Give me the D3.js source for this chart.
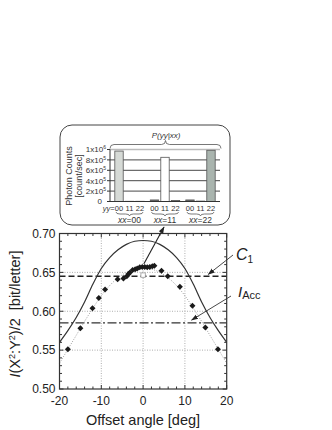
<!DOCTYPE html>
<html>
<head>
<meta charset="utf-8">
<script src="https://cdn.jsdelivr.net/npm/d3@7"></script>
<style>
body { margin: 0; background: #fff; }
svg { display: block; font-family: "Liberation Sans", Arial, sans-serif; }
</style>
</head>
<body>
<svg width="332" height="430"></svg>
<script>
// measured points (offset angle, mutual information)
var angles = [-18, -15, -12.1, -10.6, -9.1, -6.1, -4.7, -3.9, -3.5, -3.2, -2.5, -1.9, -1.4, -0.8, -0.2, 0.4, 1.0, 1.6, 2.2, 2.7, 4.4, 5.9, 8.8, 11.8, 14.9, 17.9];
var info = [0.551, 0.578, 0.604, 0.617, 0.628, 0.641, 0.642, 0.645, 0.648, 0.6495, 0.653, 0.654, 0.655, 0.6565, 0.657, 0.657, 0.6565, 0.657, 0.658, 0.6585, 0.652, 0.645, 0.6315, 0.607, 0.579, 0.551];

// theoretical curve C1(angle), solid
var curveAngles = [-20, -18, -16, -14, -12, -10, -8, -6, -4, -2, 0, 2, 4, 6, 8, 10, 12, 14, 16, 18, 20];
var curveC = [0.560, 0.575, 0.592, 0.612, 0.635, 0.655, 0.669, 0.679, 0.686, 0.690, 0.691, 0.690, 0.686, 0.679, 0.669, 0.655, 0.635, 0.612, 0.592, 0.575, 0.560];
// fitted curve, dotted
var fitC = [0.533, 0.551, 0.569, 0.587, 0.604, 0.620, 0.633, 0.643, 0.650, 0.654, 0.655, 0.654, 0.650, 0.643, 0.633, 0.620, 0.604, 0.587, 0.569, 0.551, 0.533];

var c1Level = 0.645;
var iAccLevel = 0.585;
var openPoint = [0, 0.6465];

var xTicks = [-20, -10, 0, 10, 20];
var yTicks = [0.50, 0.55, 0.60, 0.65, 0.70];

// inset: photon counts P(yy|xx)
var groups = ["00", "11", "22"];
var yyCodes = ["00", "11", "22"];
var counts00 = [970000, 4000, 4000];
var counts11 = [30000, 850000, 20000];
var counts22 = [30000, 8000, 985000];
var insetTicks = [0, 200000, 400000, 600000, 800000, 1000000];
var insetTickLabels = [["0", ""], ["2x10", "5"], ["4x10", "5"], ["6x10", "5"], ["8x10", "5"], ["1x10", "6"]];
var barColors = ["#d6dad6", "#ffffff", "#a9b4ae"];

var svg = d3.select("svg");

var x = d3.scaleLinear().domain([-20, 20]).range([59.5, 226.7]);
var y = d3.scaleLinear().domain([0.5, 0.7]).range([389, 233.5]);

var plot = svg.append("g");

// dotted grid
plot.selectAll(".gx").data([-10, 0, 10]).enter().append("line")
    .attr("x1", d => x(d)).attr("x2", d => x(d))
    .attr("y1", y(0.5)).attr("y2", y(0.7))
    .attr("stroke", "#999").attr("stroke-width", 0.8).attr("stroke-dasharray", "1,1.5");
plot.selectAll(".gy").data([0.55, 0.60, 0.65]).enter().append("line")
    .attr("x1", x(-20)).attr("x2", x(20))
    .attr("y1", d => y(d)).attr("y2", d => y(d))
    .attr("stroke", "#999").attr("stroke-width", 0.8).attr("stroke-dasharray", "1,1.5");

// reference levels
plot.append("line")
    .attr("x1", x(-20)).attr("x2", x(20))
    .attr("y1", y(c1Level)).attr("y2", y(c1Level))
    .attr("stroke", "#222").attr("stroke-width", 1.5).attr("stroke-dasharray", "6,3");
plot.append("line")
    .attr("x1", x(-20)).attr("x2", x(20))
    .attr("y1", y(iAccLevel)).attr("y2", y(iAccLevel))
    .attr("stroke", "#333").attr("stroke-width", 1.2).attr("stroke-dasharray", "9,2.5,2,2.5");

svg.append("clipPath").attr("id", "clip").append("rect")
    .attr("x", x(-20)).attr("y", y(0.7)).attr("width", x(20) - x(-20)).attr("height", y(0.5) - y(0.7));

var line = d3.line().curve(d3.curveMonotoneX);

plot.append("path")
    .attr("d", line(curveAngles.map((a, i) => [x(a), y(fitC[i])])))
    .attr("fill", "none").attr("stroke", "#888").attr("stroke-width", 0.8)
    .attr("stroke-dasharray", "1,1.5");

plot.append("path")
    .attr("clip-path", "url(#clip)")
    .attr("d", line(curveAngles.map((a, i) => [x(a), y(curveC[i])])))
    .attr("fill", "none").attr("stroke", "#333").attr("stroke-width", 1.2);

// open square
plot.append("rect")
    .attr("x", x(openPoint[0]) - 2.2).attr("y", y(openPoint[1]) - 2.2)
    .attr("width", 4.4).attr("height", 4.4)
    .attr("fill", "#fff").attr("stroke", "#999").attr("stroke-width", 0.8);

// diamonds
var diamond = d3.symbol().type(d3.symbolSquare).size(18);
plot.selectAll(".pt").data(angles).enter().append("path")
    .attr("d", diamond)
    .attr("transform", (d, i) => "translate(" + x(d) + "," + y(info[i]) + ") rotate(45)")
    .attr("fill", "#1a1a1a");

// frame
plot.append("rect")
    .attr("x", x(-20)).attr("y", y(0.7))
    .attr("width", x(20) - x(-20)).attr("height", y(0.5) - y(0.7))
    .attr("fill", "none").attr("stroke", "#333").attr("stroke-width", 1.2);

// inward ticks
var xMinor = d3.range(-20, 20.1, 2);
var yMinor = d3.range(0.5, 0.7001, 0.01);
xMinor.forEach(function(t) {
    var len = (t % 10 === 0) ? 4 : 2.5;
    plot.append("line").attr("x1", x(t)).attr("x2", x(t)).attr("y1", y(0.5)).attr("y2", y(0.5) - len).attr("stroke", "#333");
    plot.append("line").attr("x1", x(t)).attr("x2", x(t)).attr("y1", y(0.7)).attr("y2", y(0.7) + len).attr("stroke", "#333");
});
yMinor.forEach(function(t, i) {
    var len = (i % 5 === 0) ? 4 : 2.5;
    plot.append("line").attr("y1", y(t)).attr("y2", y(t)).attr("x1", x(-20)).attr("x2", x(-20) + len).attr("stroke", "#333");
    plot.append("line").attr("y1", y(t)).attr("y2", y(t)).attr("x1", x(20)).attr("x2", x(20) - len).attr("stroke", "#333");
});

// tick labels
plot.selectAll(".xl").data(xTicks).enter().append("text")
    .attr("x", d => x(d)).attr("y", 404.5)
    .attr("text-anchor", "middle").attr("font-size", 12).attr("fill", "#222")
    .text(d => d);
plot.selectAll(".yl").data(yTicks).enter().append("text")
    .attr("x", 55.5).attr("y", d => y(d)).attr("dy", "0.36em")
    .attr("text-anchor", "end").attr("font-size", 12).attr("fill", "#222")
    .text(d => d.toFixed(2));

svg.append("text")
    .attr("x", 143).attr("y", 425)
    .attr("text-anchor", "middle").attr("font-size", 14.5).attr("fill", "#222")
    .text("Offset angle [deg]");

var yl = svg.append("text")
    .attr("transform", "translate(19.5,314) rotate(-90)")
    .attr("text-anchor", "middle").attr("font-size", 14.5).attr("fill", "#222");
yl.append("tspan").attr("font-style", "italic").text("I");
yl.append("tspan").text("(X");
yl.append("tspan").attr("font-size", 9).attr("dy", -5).text("2");
yl.append("tspan").attr("dy", 5).text(":Y");
yl.append("tspan").attr("font-size", 9).attr("dy", -5).text("2");
yl.append("tspan").attr("dy", 5).text(")/2\u00a0\u00a0[bit/letter]");

// arrows
var defs = svg.append("defs");
defs.append("marker").attr("id", "ah").attr("viewBox", "0 0 10 10")
    .attr("refX", 9).attr("refY", 5).attr("markerWidth", 7).attr("markerHeight", 7)
    .attr("orient", "auto").attr("markerUnits", "userSpaceOnUse")
    .append("path").attr("d", "M0,1.5L10,5L0,8.5Z").attr("fill", "#222");

svg.append("line")
    .attr("x1", x(0.2)).attr("y1", y(0.661)).attr("x2", 164).attr("y2", 227)
    .attr("stroke", "#222").attr("stroke-width", 1.1).attr("marker-end", "url(#ah)");
svg.append("line")
    .attr("x1", 233).attr("y1", 255).attr("x2", x(15.6)).attr("y2", y(0.6474))
    .attr("stroke", "#333").attr("stroke-width", 0.9).attr("marker-end", "url(#ah)");
svg.append("line")
    .attr("x1", 231).attr("y1", 296).attr("x2", x(11.6)).attr("y2", y(0.5887))
    .attr("stroke", "#333").attr("stroke-width", 0.9).attr("marker-end", "url(#ah)");

var c1 = svg.append("text").attr("x", 236).attr("y", 260).attr("fill", "#222");
c1.append("tspan").attr("font-size", 16).attr("font-style", "italic").text("C");
c1.append("tspan").attr("font-size", 10).attr("dy", 3).text("1");

var ia = svg.append("text").attr("x", 238).attr("y", 297).attr("fill", "#222");
ia.append("tspan").attr("font-size", 15).attr("font-style", "italic").text("I");
ia.append("tspan").attr("font-size", 11).attr("dy", 2).text("Acc");

// ---- inset ----
var inset = svg.append("g");
inset.append("rect")
    .attr("x", 60).attr("y", 125).attr("width", 170).attr("height", 100)
    .attr("rx", 12).attr("ry", 12)
    .attr("fill", "#fff").attr("stroke", "#444").attr("stroke-width", 1);

var gx = d3.scalePoint().domain(groups).range([110, 220]).padding(0.55);
var bx = d3.scalePoint().domain(yyCodes).range([-10.5, 10.5]);
var gy = d3.scaleLinear().domain([0, 1000000]).range([201.5, 149.5]);

inset.selectAll(".ig").data(insetTicks.slice(1)).enter().append("line")
    .attr("x1", 110).attr("x2", 220)
    .attr("y1", d => gy(d)).attr("y2", d => gy(d))
    .attr("stroke", d => d === 1000000 ? "#bbb" : "#333")
    .attr("stroke-width", d => d === 1000000 ? 1.6 : 0.9);

var table = [counts00, counts11, counts22];
var bars = [];
groups.forEach(function(g, gi) {
    yyCodes.forEach(function(c, ci) {
        bars.push({ g: g, c: c, ci: ci, v: table[gi][ci] });
    });
});
var bw = 8.4;
inset.selectAll(".bar").data(bars).enter().append("rect")
    .attr("x", d => gx(d.g) + bx(d.c) - bw / 2)
    .attr("y", d => gy(d.v))
    .attr("width", bw)
    .attr("height", d => gy(0) - gy(d.v))
    .attr("fill", d => d.v < 100000 ? "#666" : barColors[d.ci])
    .attr("stroke", "#555").attr("stroke-width", 0.8);

inset.append("line").attr("x1", 110).attr("x2", 110).attr("y1", gy(1000000)).attr("y2", gy(0)).attr("stroke", "#333");
inset.append("line").attr("x1", 110).attr("x2", 220).attr("y1", gy(0)).attr("y2", gy(0)).attr("stroke", "#333");
inset.selectAll(".itk").data(insetTicks).enter().append("line")
    .attr("x1", 107).attr("x2", 110).attr("y1", d => gy(d)).attr("y2", d => gy(d)).attr("stroke", "#333");

var itl = inset.selectAll(".itl").data(insetTicks).enter().append("text")
    .attr("x", (d, i) => i === 0 ? 102 : 106).attr("y", d => gy(d) + 2.9)
    .attr("text-anchor", "end").attr("font-size", 8).attr("fill", "#333");
itl.append("tspan").text((d, i) => insetTickLabels[i][0]);
itl.append("tspan").attr("font-size", 5).attr("dy", -3).text((d, i) => insetTickLabels[i][1]);

inset.append("text").attr("transform", "translate(71.5,176) rotate(-90)")
    .attr("text-anchor", "middle").attr("font-size", 9).attr("fill", "#333").text("Photon Counts");
inset.append("text").attr("transform", "translate(81.5,176) rotate(-90)")
    .attr("text-anchor", "middle").attr("font-size", 9).attr("fill", "#333").text("[count/sec]");

// yy labels
groups.forEach(function(g) {
    yyCodes.forEach(function(c) {
        inset.append("text").attr("x", gx(g) + bx(c)).attr("y", 210.5)
            .attr("text-anchor", "middle").attr("font-size", 7.5).attr("fill", "#333").text(c);
    });
});
var yyl = inset.append("text").attr("x", gx("00") + bx("00") - 4.5).attr("y", 210.5)
    .attr("text-anchor", "end").attr("font-size", 7.5).attr("fill", "#333");
yyl.append("tspan").attr("font-style", "italic").text("yy");
yyl.append("tspan").text("=");

function brace(x0, x1, yb, h, down) {
    var s = down ? 1 : -1;
    var xm = (x0 + x1) / 2;
    var r = Math.min(4, (x1 - x0) / 6);
    return "M" + x0 + "," + yb +
        "Q" + x0 + "," + (yb + s * h / 2) + " " + (x0 + r) + "," + (yb + s * h / 2) +
        "L" + (xm - r) + "," + (yb + s * h / 2) +
        "Q" + xm + "," + (yb + s * h / 2) + " " + xm + "," + (yb + s * h) +
        "Q" + xm + "," + (yb + s * h / 2) + " " + (xm + r) + "," + (yb + s * h / 2) +
        "L" + (x1 - r) + "," + (yb + s * h / 2) +
        "Q" + x1 + "," + (yb + s * h / 2) + " " + x1 + "," + yb;
}

groups.forEach(function(g) {
    inset.append("path")
        .attr("d", brace(gx(g) + bx("00") - 3, gx(g) + bx("22") + 3, 212, 4, true))
        .attr("fill", "none").attr("stroke", "#444").attr("stroke-width", 0.7);
    var t = inset.append("text").attr("x", gx(g)).attr("y", 222.5)
        .attr("text-anchor", "middle").attr("font-size", 8.5).attr("fill", "#333");
    t.append("tspan").attr("font-style", "italic").text("xx");
    t.append("tspan").text("=" + g);
});

inset.append("path")
    .attr("d", brace(110, 221, 148.5, 8, false))
    .attr("fill", "none").attr("stroke", "#555").attr("stroke-width", 0.8);
inset.append("text").attr("x", 166).attr("y", 138)
    .attr("text-anchor", "middle").attr("font-size", 8).attr("font-style", "italic").attr("fill", "#333")
    .text("P(yy|xx)");
</script>
</body>
</html>
